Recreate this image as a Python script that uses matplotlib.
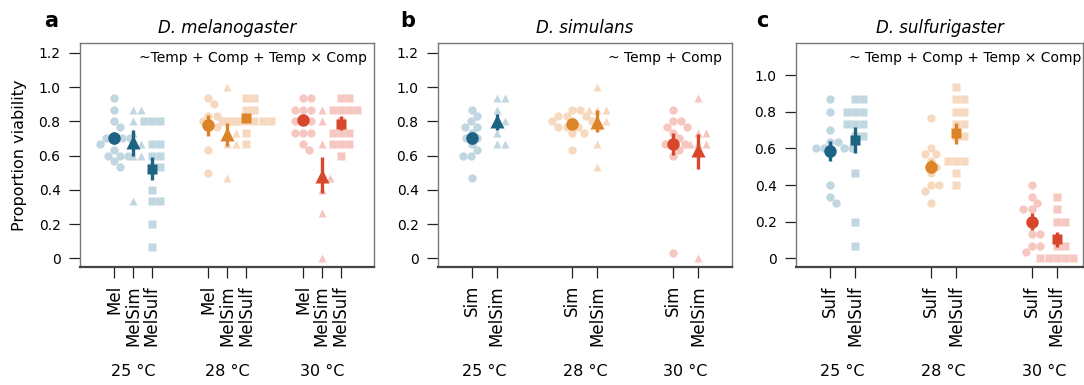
import numpy as np
import matplotlib.pyplot as plt
from matplotlib import transforms

plt.rcParams['font.family'] = 'DejaVu Sans'

W, H = 1084, 385
temps = ['25 °C', '28 °C', '30 °C']
dark = ['#1d6384', '#dc8427', '#d8462b']
light = ['#c0d6e0', '#f6d9bf', '#f6c7c0']

# panel a: D. melanogaster
a_comp = ['Mel', 'MelSim', 'MelSulf']
a_raw = [
    [0.933, 0.867, 0.8, 0.767, 0.7, 0.7, 0.7, 0.7, 0.667, 0.633, 0.6, 0.6, 0.6, 0.567, 0.533],
    [0.867, 0.867, 0.8, 0.733, 0.667, 0.667, 0.6, 0.6, 0.333],
    [0.8, 0.8, 0.8, 0.667, 0.667, 0.6, 0.6, 0.533, 0.533, 0.4, 0.333, 0.333, 0.2, 0.067],
    [0.933, 0.9, 0.833, 0.833, 0.8, 0.8, 0.767, 0.767, 0.633, 0.5],
    [1.0, 0.8, 0.8, 0.733, 0.733, 0.667, 0.667, 0.467],
    [0.933, 0.933, 0.867, 0.867, 0.8, 0.8, 0.8, 0.8, 0.8, 0.8, 0.8, 0.733, 0.667],
    [0.933, 0.933, 0.867, 0.867, 0.867, 0.8, 0.8, 0.8, 0.733, 0.733, 0.733, 0.667, 0.633],
    [0.867, 0.8, 0.667, 0.467, 0.467, 0.4, 0.267, 0.0],
    [0.933, 0.933, 0.867, 0.867, 0.867, 0.867, 0.8, 0.733, 0.733, 0.733, 0.667, 0.667, 0.667, 0.6],
]
a_est = [0.70, 0.68, 0.524, 0.777, 0.725, 0.821, 0.806, 0.48, 0.786]
a_lo = [0.665, 0.60, 0.456, 0.713, 0.656, 0.80, 0.78, 0.379, 0.75]
a_hi = [0.735, 0.751, 0.592, 0.839, 0.79, 0.845, 0.83, 0.592, 0.83]

# panel b: D. simulans
b_comp = ['Sim', 'MelSim']
b_raw = [
    [0.867, 0.833, 0.8, 0.767, 0.767, 0.733, 0.7, 0.7, 0.667, 0.633, 0.6, 0.6, 0.467],
    [0.933, 0.933, 0.867, 0.8, 0.8, 0.733, 0.667, 0.667],
    [0.867, 0.867, 0.833, 0.833, 0.833, 0.8, 0.8, 0.8, 0.767, 0.767, 0.767, 0.767, 0.733, 0.733, 0.633],
    [1.0, 0.867, 0.867, 0.867, 0.8, 0.8, 0.667, 0.533],
    [0.867, 0.8, 0.8, 0.767, 0.767, 0.733, 0.7, 0.667, 0.667, 0.667, 0.633, 0.6, 0.033],
    [0.933, 0.733, 0.733, 0.667, 0.667, 0.667, 0.0],
]
b_est = [0.705, 0.80, 0.786, 0.796, 0.667, 0.63]
b_lo = [0.67, 0.75, 0.76, 0.738, 0.602, 0.524]
b_hi = [0.74, 0.845, 0.81, 0.864, 0.732, 0.728]

# panel c: D. sulfurigaster
c_comp = ['Sulf', 'MelSulf']
c_raw = [
    [0.867, 0.8, 0.7, 0.633, 0.633, 0.6, 0.6, 0.6, 0.6, 0.567, 0.4, 0.333, 0.3],
    [0.867, 0.867, 0.8, 0.8, 0.8, 0.733, 0.733, 0.733, 0.667, 0.667, 0.467, 0.2, 0.067],
    [0.767, 0.6, 0.567, 0.567, 0.533, 0.5, 0.467, 0.4, 0.4, 0.367, 0.3],
    [0.933, 0.867, 0.867, 0.8, 0.8, 0.733, 0.733, 0.667, 0.667, 0.533, 0.533, 0.533, 0.467, 0.4],
    [0.4, 0.333, 0.3, 0.267, 0.267, 0.2, 0.133, 0.133, 0.067, 0.067, 0.033],
    [0.333, 0.267, 0.2, 0.2, 0.067, 0.067, 0, 0, 0, 0, 0],
]
c_est = [0.587, 0.645, 0.5, 0.682, 0.2, 0.105]
c_lo = [0.533, 0.573, 0.464, 0.624, 0.155, 0.064]
c_hi = [0.642, 0.715, 0.536, 0.736, 0.245, 0.145]


def swarm(ax, x0, vals, d=8.2):
    # simple beeswarm in pixel space
    pts = ax.transData.transform(np.column_stack([np.full(len(vals), x0), vals]))
    ys = pts[:, 1]
    xc = pts[0, 0]
    xs = np.zeros(len(vals))
    placed = []
    for i in np.argsort(-ys, kind='stable'):
        cands = [0.0]
        for px, py in placed:
            dy = ys[i] - py
            if abs(dy) < d:
                dx = np.sqrt(d * d - dy * dy)
                cands += [px + dx, px - dx]
        ok = [c for c in cands
              if all((c - px) ** 2 + (ys[i] - py) ** 2 >= d * d - 1e-6 for px, py in placed)]
        best = min(ok, key=lambda c: (round(abs(c), 6), -c))
        xs[i] = best
        placed.append((best, ys[i]))
    back = ax.transData.inverted().transform(np.column_stack([xc + xs, ys]))
    return back[:, 0]


fig = plt.figure(figsize=(W / 100, H / 100), dpi=100)


def panel(left, width, comps, markers, raw, est, lo, hi, xlim, ylim, yticks,
          title, letter, formula, letter_x, formula_dx):
    ax = fig.add_axes([left / W, 1 - 267 / H, width / W, 224 / H])
    n = len(comps)
    pos = [1 + g * (n + 2) + k for g in range(3) for k in range(n)]
    ax.set_xlim(*xlim)
    ax.set_ylim(*ylim)
    for i, p in enumerate(pos):
        g, k = divmod(i, n)
        mk = markers[k]
        xs = swarm(ax, p, raw[i])
        ax.plot(xs, raw[i], ls='none', marker=mk, ms=6.0 if mk != '^' else 6.4,
                color=light[g], mec='none', zorder=2)
    for i, p in enumerate(pos):
        g, k = divmod(i, n)
        mk = markers[k]
        ax.vlines(p, lo[i], hi[i], color=dark[g], lw=2.4, zorder=3)
        ms = {'o': 9.0, '^': 10.5, 's': 7.8}[mk]
        ax.plot(p, est[i], ls='none', marker=mk, ms=ms, color=dark[g], mec='none', zorder=4)
    ax.set_xticks(pos)
    ax.set_xticklabels(comps * 3, rotation=90, fontsize=12)
    ax.set_yticks(yticks)
    ax.set_yticklabels(['0' if t == 0 else f'{t:.1f}' for t in yticks], fontsize=10)
    ax.tick_params(axis='both', length=8, width=0.9, color='#222')
    ax.tick_params(axis='x', pad=5)
    ax.tick_params(axis='y', pad=6)
    for s in ['left', 'top', 'right']:
        ax.spines[s].set_color('#777')
        ax.spines[s].set_linewidth(1.0)
    ax.spines['bottom'].set_color('#444')
    ax.spines['bottom'].set_linewidth(1.6)
    tr = transforms.blended_transform_factory(ax.transData, fig.transFigure)
    for g in range(3):
        ax.text(np.mean(pos[g * n:(g + 1) * n]), 1 - 371 / H, temps[g], transform=tr,
                ha='center', va='center', fontsize=11.5)
    right = left + width
    fig.text((left + width / 2) / W, 1 - 28 / H, title, style='italic', fontsize=12,
             ha='center', va='center')
    fig.text(letter_x / W, 1 - 21 / H, letter, fontweight='bold', fontsize=15,
             ha='center', va='center')
    fig.text((right - formula_dx) / W, 1 - 58 / H, formula, fontsize=10,
             ha='right', va='center')
    return ax


yt = [0, 0.2, 0.4, 0.6, 0.8, 1.0, 1.2]
panel(80, 294, a_comp, ['o', '^', 's'], a_raw, a_est, a_lo, a_hi,
      (-0.80, 14.76), (-0.051, 1.257), yt, 'D. melanogaster', 'a',
      '~Temp + Comp + Temp × Comp', 51, 7)
panel(438, 294, b_comp, ['o', '^'], b_raw, b_est, b_lo, b_hi,
      (-0.33, 11.34), (-0.051, 1.257), yt, 'D. simulans', 'b',
      '~ Temp + Comp', 408, 10)
panel(796, 287, c_comp, ['o', 's'], c_raw, c_est, c_lo, c_hi,
      (-0.35, 11.04), (-0.047, 1.175), [0, 0.2, 0.4, 0.6, 0.8, 1.0], 'D. sulfurigaster', 'c',
      '~ Temp + Comp + Temp × Comp', 762, 2)

fig.text(20 / W, 1 - 155 / H, 'Proportion viability', rotation=90, fontsize=11.5,
         ha='center', va='center')

fig.savefig('out.png', dpi=100)
